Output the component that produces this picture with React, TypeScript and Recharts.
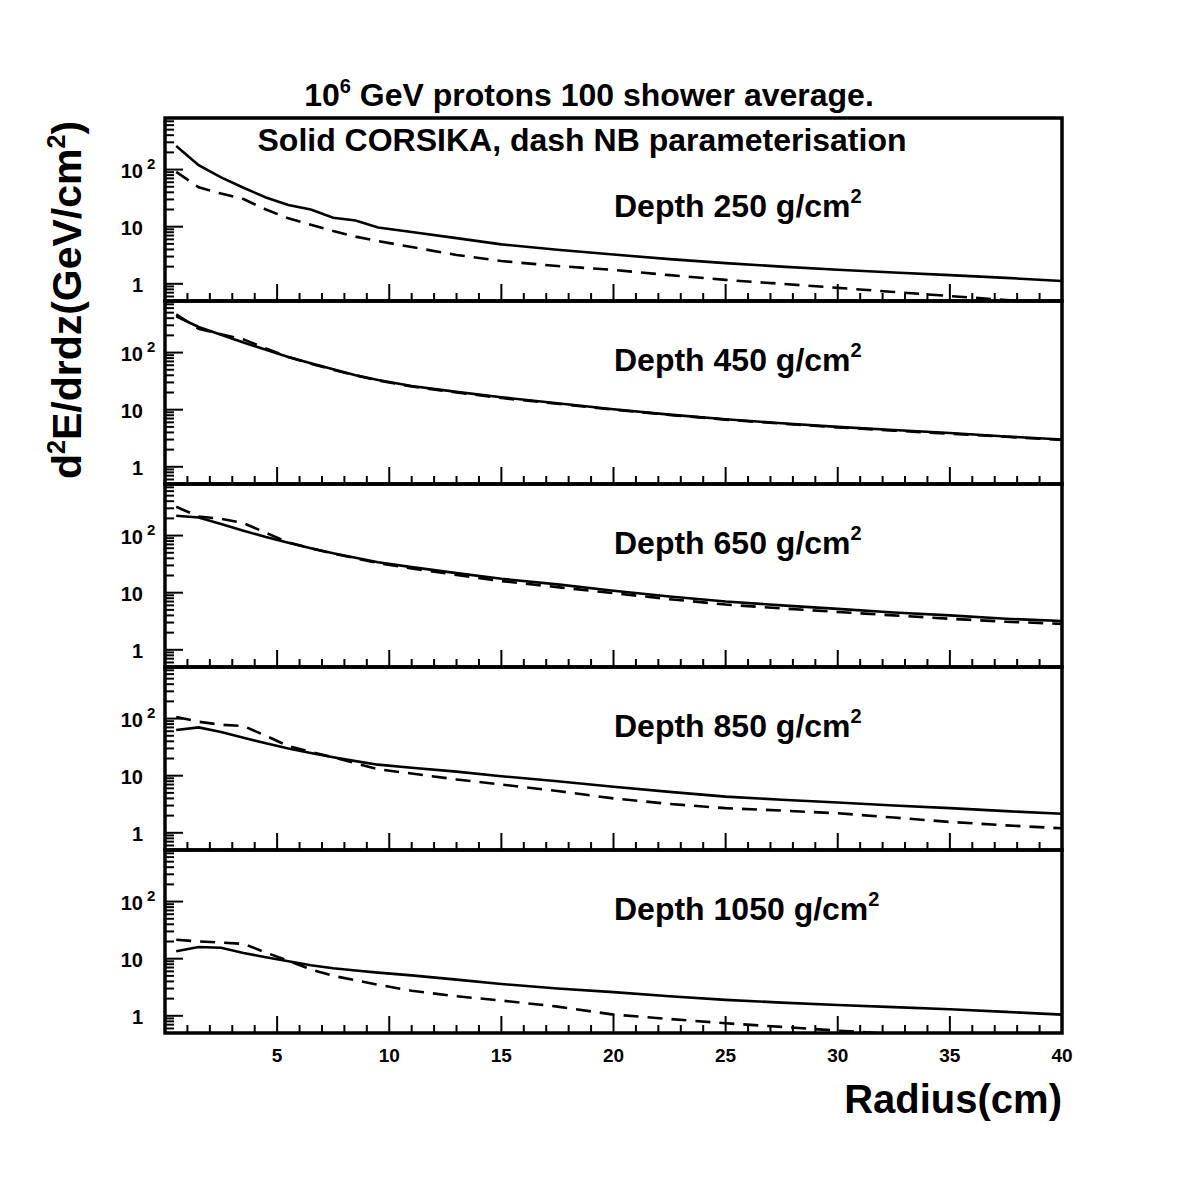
import React from 'react'
import { LineChart, Line, XAxis, YAxis, ReferenceArea } from 'recharts'

// radius bins (cm)
const radius = [0.5, 1.5, 2.5, 3.5, 4.5, 5.5, 6.5, 7.5, 8.5, 9.5, 11, 13, 15, 17.5, 20, 22.5, 25, 27.5, 30, 32.5, 35, 37.5, 40]

// solid = CORSIKA, dash = NB parameterisation
const solid250 = [259, 119, 73, 48, 32.5, 24, 20, 14.3, 12.8, 9.7, 8.1, 6.3, 4.9, 3.95, 3.25, 2.7, 2.3, 2.0, 1.76, 1.58, 1.42, 1.27, 1.12]
const dash250 = [91, 49, 38, 30.5, 20, 14, 10.8, 8.4, 6.7, 5.6, 4.4, 3.2, 2.5, 2.05, 1.75, 1.42, 1.17, 1.0, 0.85, 0.72, 0.61, 0.52, 0.45]
const solid450 = [433, 280, 205, 150, 112, 84, 65, 51, 40, 33, 26, 20.5, 16.5, 13, 10.2, 8.2, 6.8, 5.8, 5.0, 4.4, 3.9, 3.4, 3.0]
const dash450 = [465, 262, 210, 170, 118, 84, 64, 50, 40, 32.5, 25.5, 20, 16, 12.7, 10, 8.1, 6.7, 5.7, 4.9, 4.3, 3.8, 3.35, 2.95]
const solid650 = [223, 207, 160, 122, 94, 75, 60, 49, 41, 34, 28, 22, 17.5, 14, 10.8, 8.6, 7.0, 6.0, 5.2, 4.5, 4.0, 3.5, 3.2]
const dash650 = [319, 215, 197, 165, 112, 76, 60, 48.5, 40, 33, 26.5, 20.5, 16, 12.5, 9.8, 7.7, 6.2, 5.3, 4.6, 4.0, 3.5, 3.1, 2.85]
const solid850 = [63, 70, 58, 46, 37, 30, 25, 21, 18, 15.6, 13.8, 11.8, 9.8, 8.0, 6.4, 5.2, 4.3, 3.8, 3.4, 3.0, 2.7, 2.4, 2.15]
const dash850 = [107, 88, 78, 74, 50, 33, 26, 21, 16.5, 13, 10.9, 8.6, 7.0, 5.4, 4.0, 3.2, 2.7, 2.45, 2.2, 1.85, 1.55, 1.35, 1.2]
const solid1050 = [13.5, 16, 15.5, 12.6, 10.6, 9.0, 7.7, 6.8, 6.2, 5.7, 5.1, 4.3, 3.6, 3.0, 2.6, 2.2, 1.9, 1.7, 1.55, 1.42, 1.3, 1.17, 1.05]
const dash1050 = [21.5, 20, 19.2, 18.2, 12.8, 9.2, 6.5, 5.0, 4.2, 3.5, 2.75, 2.2, 1.85, 1.45, 1.05, 0.88, 0.74, 0.64, 0.55, 0.48, 0.43, 0.39, 0.35]

const depths = [250, 450, 650, 850, 1050]
const solidSeries = [solid250, solid450, solid650, solid850, solid1050]
const dashSeries = [dash250, dash450, dash650, dash850, dash1050]

const xTicks = Array.from({ length: 41 }, (_, i) => i)
const yMajor = [1, 10, 100]
const yTicks = [0.6, 0.7, 0.8, 0.9, 1, 2, 3, 4, 5, 6, 7, 8, 9, 10, 20, 30, 40, 50, 60, 70, 80, 90, 100, 200, 300, 400, 500, 600, 700]

const FONT = "'Liberation Sans', Arial, Helvetica, sans-serif"
const W = 1181
const LEFT = 165
const RIGHT = 1062
const TOP = 118
const PH = 183
const PAD = 6

const YTick = (props: any) => {
  const { x, y, payload } = props
  const v = payload.value
  const major = yMajor.includes(v)
  const label = { fontFamily: FONT, fontWeight: 'bold', fontSize: 20, fill: '#000' }
  return (
    <g>
      <line x1={x} x2={x + (major ? 18 : 9)} y1={y} y2={y} stroke='#000' strokeWidth={2} />
      {v === 1 && (
        <text x={x - 22} y={y + 8} textAnchor='end' {...label}>1</text>
      )}
      {v === 10 && (
        <text x={x - 22} y={y + 8} textAnchor='end' {...label}>10</text>
      )}
      {v === 100 && (
        <g>
          <text x={x - 22} y={y + 8} textAnchor='end' {...label}>10</text>
          <text x={x - 18} y={y - 1} {...label} fontSize={15}>2</text>
        </g>
      )}
    </g>
  )
}

const XTick = (props: any) => {
  const { x, y, payload, showLabel } = props
  const v = payload.value
  const major = v % 5 === 0
  return (
    <g>
      {v > 0 && v < 40 && (
        <line x1={x} x2={x} y1={y} y2={y - (major ? 17 : 8)} stroke='#000' strokeWidth={2} />
      )}
      {showLabel && major && v > 0 && (
        <text x={x} y={y + 29} textAnchor='middle' fontFamily={FONT} fontWeight='bold' fontSize={19} fill='#000'>
          {v}
        </text>
      )}
    </g>
  )
}

const Panel = ({ index }: { index: number }) => {
  const last = index === depths.length - 1
  const bottom = last ? 50 : PAD
  const data = radius.map((r, i) => ({
    r,
    solid: solidSeries[index][i],
    dash: dashSeries[index][i],
  }))
  return (
    <div style={{ position: 'absolute', left: 0, top: TOP + index * PH - PAD }}>
      <LineChart
        width={W}
        height={PH + PAD + bottom}
        data={data}
        margin={{ top: PAD, right: W - RIGHT, bottom: 0, left: 0 }}
      >
        <XAxis
          dataKey='r'
          type='number'
          domain={[0, 40]}
          ticks={xTicks}
          interval={0}
          axisLine={false}
          tickLine={false}
          tickSize={0}
          tickMargin={0}
          height={bottom}
          tick={(p: any) => <XTick {...p} showLabel={last} />}
        />
        <YAxis
          type='number'
          scale='log'
          domain={[0.5, 800]}
          allowDataOverflow
          ticks={yTicks}
          interval={0}
          width={LEFT}
          axisLine={false}
          tickLine={false}
          tickSize={0}
          tickMargin={0}
          tick={(p: any) => <YTick {...p} />}
        />
        <ReferenceArea x1={0} x2={40} y1={0.5} y2={800} fill='none' stroke='#000' strokeWidth={3.5} ifOverflow='visible' />
        <Line
          type='linear'
          dataKey='solid'
          stroke='#000'
          strokeWidth={2.6}
          dot={false}
          isAnimationActive={false}
        />
        <Line
          type='linear'
          dataKey='dash'
          stroke='#000'
          strokeWidth={2.6}
          strokeDasharray='15 9'
          dot={false}
          isAnimationActive={false}
        />
      </LineChart>
    </div>
  )
}

const App = () => {
  const txt = { fontFamily: FONT, fontWeight: 'bold', fill: '#000' } as const
  return (
    <div style={{ position: 'absolute', left: 0, top: 0, width: W, height: W, background: '#fff' }}>
      {depths.map((d, i) => (
        <Panel key={d} index={i} />
      ))}
      <svg
        width={W}
        height={W}
        style={{ position: 'absolute', left: 0, top: 0, pointerEvents: 'none' }}
      >
        <text x={589} y={106} textAnchor='middle' fontSize={32} {...txt}>
          10<tspan fontSize={20} dy={-13}>6</tspan>
          <tspan dy={13}> GeV protons 100 shower average.</tspan>
        </text>
        <text x={582} y={151} textAnchor='middle' fontSize={32} {...txt}>
          Solid CORSIKA, dash NB parameterisation
        </text>
        {depths.map((d, i) => (
          <text key={d} x={614} y={i === 0 ? 217 : TOP + i * PH + 70} fontSize={32} {...txt}>
            Depth {d} g/cm<tspan fontSize={20} dy={-14}>2</tspan>
          </text>
        ))}
        <text x={1062} y={1113} textAnchor='end' fontSize={40} {...txt}>
          Radius(cm)
        </text>
        <text x={81} y={300} textAnchor='middle' fontSize={41} transform='rotate(-90 81 300)' {...txt}>
          d<tspan fontSize={25} dy={-16}>2</tspan>
          <tspan dy={16}>E/drdz(GeV/cm</tspan>
          <tspan fontSize={25} dy={-16}>2</tspan>
          <tspan dy={16}>)</tspan>
        </text>
      </svg>
    </div>
  )
}

export default App
